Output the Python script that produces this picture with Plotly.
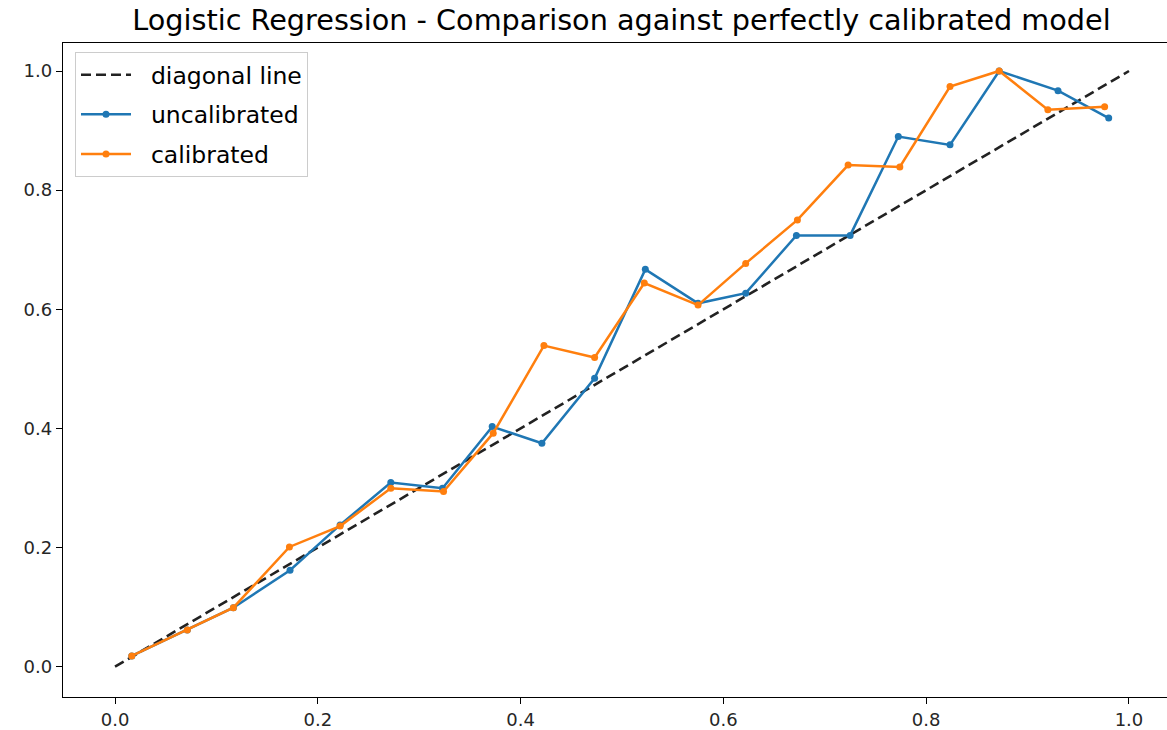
import plotly.graph_objects as go

# Data
diag_x = [0.0, 1.0]
diag_y = [0.0, 1.0]

uncal_x = [0.0165, 0.0713, 0.1167, 0.1726, 0.222, 0.272, 0.323, 0.372, 0.421, 0.473,
           0.523, 0.575, 0.622, 0.672, 0.725, 0.7725, 0.8235, 0.872, 0.930, 0.980]
uncal_y = [0.018, 0.0616, 0.099, 0.162, 0.238, 0.309, 0.2995, 0.403, 0.375, 0.484,
           0.667, 0.610, 0.627, 0.724, 0.724, 0.890, 0.876, 1.0, 0.967, 0.921]

cal_x = [0.0165, 0.0713, 0.1167, 0.172, 0.222, 0.272, 0.324, 0.373, 0.423, 0.473,
         0.522, 0.575, 0.622, 0.673, 0.723, 0.774, 0.8235, 0.872, 0.920, 0.976]
cal_y = [0.018, 0.0616, 0.099, 0.201, 0.236, 0.2995, 0.294, 0.392, 0.539, 0.519,
         0.644, 0.607, 0.677, 0.750, 0.842, 0.839, 0.974, 1.0, 0.935, 0.940]

tick_vals = [0.0, 0.2, 0.4, 0.6, 0.8, 1.0]
series_names = ["diagonal line", "uncalibrated", "calibrated"]
title_text = "Logistic Regression - Comparison against perfectly calibrated model"

FONT = "DejaVu Sans"
W, H = 1167, 730
PAD = "\u00a0\u00a0"

fig = go.Figure()
fig.add_trace(go.Scatter(x=diag_x, y=diag_y, mode="lines", name=PAD + series_names[0],
                         legendgroup="g1",
                         line=dict(color="#222222", width=2.6, dash="10px,5px")))
fig.add_trace(go.Scatter(x=uncal_x, y=uncal_y, mode="lines+markers", name=PAD + series_names[1],
                         legendgroup="g2",
                         line=dict(color="#1f77b4", width=2.5),
                         marker=dict(size=7, color="#1f77b4")))
fig.add_trace(go.Scatter(x=cal_x, y=cal_y, mode="lines+markers", name=PAD + series_names[2],
                         legendgroup="g3",
                         line=dict(color="#ff7f0e", width=2.5),
                         marker=dict(size=7, color="#ff7f0e")))

axis_common = dict(
    showgrid=False, zeroline=False, showline=True, linecolor="#000000", linewidth=1.4,
    ticks="outside", ticklen=6, tickwidth=1.4, tickcolor="#000000",
    tickvals=tick_vals, tickformat=".1f",
    tickfont=dict(family=FONT, size=18, color="#262626"),
)

fig.update_layout(
    width=W, height=H,
    margin=dict(l=63, r=0, t=43, b=33),
    paper_bgcolor="white", plot_bgcolor="white",
    font=dict(family=FONT),
    title=dict(text=title_text, x=621.5 / W, xanchor="center", xref="container",
               y=1 - 20 / H, yanchor="middle", yref="container",
               font=dict(family=FONT, size=28.7, color="#000000")),
    xaxis=dict(range=[-0.0513, 1.0375], mirror=True, **axis_common),
    yaxis=dict(range=[-0.0509, 1.047], mirror=False, **axis_common),
    legend=dict(x=(75 - 63) / (W - 63), y=1 - (52 - 43) / (697 - 43), xanchor="left", yanchor="top",
                bgcolor="rgba(255,255,255,0.8)", bordercolor="#cccccc", borderwidth=1,
                traceorder="grouped", tracegroupgap=6, itemwidth=50,
                font=dict(family=FONT, size=23.5, color="#000000")),
    showlegend=True,
)

fig.write_html("out.html")
